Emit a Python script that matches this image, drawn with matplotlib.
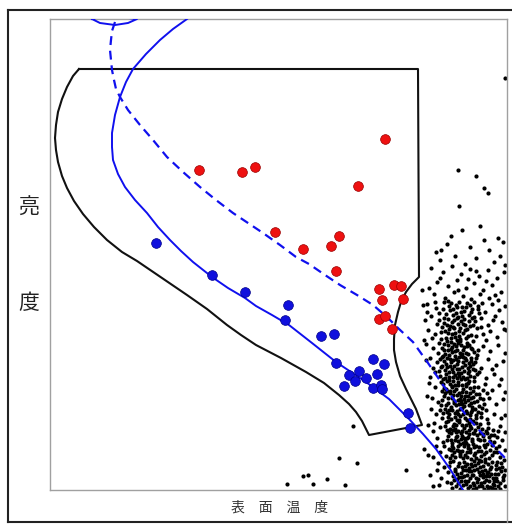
import matplotlib.pyplot as plt
from matplotlib.lines import Line2D

plt.rcParams['font.family'] = ['Noto Sans CJK JP', 'DejaVu Sans']

# all values, in picture units (x to the right, y downwards)
region_x = [79, 418, 419, 412, 406, 401, 398, 395, 394, 394, 396, 400, 406, 411, 416, 422,
            369, 366, 362, 356, 349, 339, 324, 306, 281, 256, 241, 227, 207, 187, 162,
            137, 122, 107, 94, 83, 74, 67, 62, 58, 56, 55, 56, 58, 62, 67, 73, 79]
region_y = [69, 69, 277, 284, 292, 302, 312, 325, 339, 350, 362, 376, 389, 399, 409, 425,
            435, 429, 421, 412, 404, 395, 383, 372, 358, 345, 335, 325, 309, 295, 278,
            261, 252, 240, 227, 214, 201, 188, 176, 162, 150, 138, 125, 112, 99, 87, 76, 69]

track_x = [187, 173, 160, 146, 133, 126, 120, 115, 112, 112, 113, 118, 125, 135, 147, 158,
           170, 181, 193, 212, 228, 245, 256, 272, 289, 312, 336, 351, 366, 389, 409, 423,
           436, 450, 463]
track_y = [19, 29, 40, 54, 69, 82, 97, 115, 133, 147, 160, 174, 187, 200, 213, 227,
           240, 251, 262, 277, 288, 298, 306, 315, 325, 343, 362, 372, 382, 399, 419, 434,
           449, 469, 490]

loop_x = [92, 100, 115, 128, 137, 120, 100, 92]
loop_y = [19, 23, 25, 23, 19, 17, 17, 19]

dashed_x = [115, 112, 111, 110, 111, 112, 114, 116, 120, 128, 140, 153, 167, 183, 200, 216,
            233, 248, 263, 280, 296, 309, 325, 340, 357, 373, 387, 399, 413, 428, 443, 456,
            469, 488, 506]
dashed_y = [22, 31, 40, 50, 60, 70, 80, 89, 97, 110, 125, 140, 157, 172, 187, 200,
            213, 223, 233, 245, 257, 264, 275, 285, 295, 305, 317, 329, 342, 363, 385, 402,
            419, 440, 459]

red_x = [199, 242, 255, 385, 358, 275, 303, 331, 339, 336, 379, 394, 401, 382, 403,
         379, 385, 392]
red_y = [170, 172, 167, 139, 186, 232, 249, 246, 236, 271, 289, 285, 286, 300, 299,
         319, 316, 329]

blue_x = [156, 212, 245, 288, 285, 321, 334, 336, 373, 384, 349, 359, 366, 377, 355,
          344, 373, 381, 382, 408, 410]
blue_y = [243, 275, 292, 305, 320, 336, 334, 363, 359, 364, 375, 371, 378, 374, 381,
          386, 388, 385, 389, 413, 428]

field_stars = [
    (505, 78), (458, 170), (476, 176), (484, 188), (488, 193), (459, 206),
    (353, 426), (339, 458), (357, 463), (406, 470), (303, 476), (308, 475),
    (327, 479), (287, 484), (313, 484), (345, 485), (424, 449),
    (430, 475), (433, 486), (428, 455), (425, 320), (422, 290),
]

cloud = [
    (462, 230), (480, 226), (498, 238), (447, 244), (470, 247), (489, 250), (503, 242),
    (455, 256), (440, 260), (476, 258), (494, 262), (465, 264), (484, 240), (451, 236),
    (436, 252), (500, 256),
    (431, 268), (443, 272), (452, 266), (461, 274), (470, 269), (479, 276), (488, 270),
    (497, 278), (504, 272), (437, 282), (448, 286), (457, 280), (466, 288), (474, 283),
    (483, 290), (492, 285), (501, 292), (434, 294), (445, 298), (454, 292), (463, 296),
    (471, 299), (480, 294), (489, 298), (498, 300), (440, 278), (458, 290), (476, 271),
    (486, 281), (495, 295), (429, 288), (468, 279),
    (427, 304), (436, 308), (444, 302), (450, 310), (456, 305), (461, 312), (467, 303),
    (472, 309), (478, 306), (485, 312), (492, 304), (499, 310), (505, 306), (431, 316),
    (439, 320), (446, 314), (452, 322), (458, 317), (463, 324), (469, 315), (475, 321),
    (481, 318), (488, 325), (495, 316), (502, 322), (428, 330), (435, 334), (442, 327),
    (448, 333), (454, 328), (459, 336), (465, 330), (471, 335), (477, 328), (483, 334),
    (490, 331), (497, 337), (504, 329), (441, 339), (457, 340), (473, 341), (486, 340),
    (449, 306), (464, 319), (455, 333), (470, 326), (447, 325), (462, 307), (453, 315),
    (479, 313), (444, 318), (466, 338), (437, 324), (460, 328), (474, 317), (451, 338),
    (493, 320), (482, 303),
    (426, 344), (433, 348), (439, 343), (444, 350), (448, 345), (452, 352), (456, 346),
    (460, 353), (464, 347), (468, 354), (472, 349), (477, 355), (483, 346), (490, 351),
    (498, 345), (505, 353), (430, 358), (437, 362), (442, 357), (446, 364), (450, 359),
    (454, 366), (458, 361), (462, 367), (466, 360), (470, 366), (475, 362), (481, 368),
    (488, 359), (496, 365), (503, 361), (435, 372), (440, 376), (445, 370), (449, 377),
    (453, 372), (457, 378), (461, 373), (465, 379), (469, 371), (474, 377), (479, 372),
    (486, 378), (494, 374), (501, 379), (443, 356), (451, 342), (459, 369), (467, 343),
    (447, 367), (455, 356), (463, 357), (471, 358), (438, 353), (457, 350), (449, 372),
    (461, 345), (445, 378), (473, 369), (453, 360), (441, 367), (465, 365), (478, 350),
    (459, 376), (451, 349), (468, 373), (444, 344), (433, 368), (492, 369),
    (429, 383), (435, 387), (441, 382), (446, 389), (450, 384), (454, 391), (458, 385),
    (462, 392), (466, 386), (470, 393), (474, 387), (479, 394), (485, 384), (492, 390),
    (499, 385), (505, 392), (432, 398), (438, 402), (444, 396), (448, 403), (452, 398),
    (456, 405), (460, 399), (464, 406), (468, 400), (472, 407), (477, 401), (482, 408),
    (489, 398), (496, 404), (503, 399), (436, 414), (442, 418), (447, 412), (451, 419),
    (455, 413), (459, 420), (463, 414), (467, 420), (471, 412), (476, 418), (481, 413),
    (487, 419), (494, 414), (501, 418), (445, 393), (453, 381), (461, 401), (469, 381),
    (449, 410), (457, 395), (465, 396), (473, 397), (440, 410), (458, 414), (450, 391),
    (462, 385), (446, 405), (475, 409), (454, 403), (442, 391), (466, 411), (480, 398),
    (460, 409), (452, 387), (470, 415), (483, 390), (448, 417), (443, 384),
    (434, 423), (440, 427), (446, 422), (450, 429), (454, 424), (458, 431), (462, 425),
    (466, 432), (470, 426), (474, 433), (478, 427), (483, 434), (488, 428), (494, 435),
    (500, 426), (505, 432), (437, 438), (443, 442), (448, 436), (452, 443), (456, 437),
    (460, 444), (464, 438), (468, 445), (472, 439), (476, 446), (480, 440), (485, 447),
    (490, 441), (496, 448), (502, 440), (440, 452), (446, 456), (451, 450), (455, 457),
    (459, 451), (463, 458), (467, 452), (471, 459), (475, 453), (479, 460), (484, 454),
    (489, 458), (494, 452), (500, 457), (505, 450), (449, 432), (457, 420), (465, 441),
    (473, 421), (453, 448), (461, 433), (469, 434), (477, 435), (444, 446), (462, 451),
    (455, 429), (466, 425), (451, 440), (479, 447), (458, 441), (447, 430), (470, 449),
    (484, 440), (464, 446), (456, 425), (474, 455), (487, 433), (452, 455), (492, 445),
    (481, 451), (497, 437), (460, 456), (468, 437),
    (438, 463), (444, 467), (450, 462), (455, 469), (459, 463), (463, 470), (467, 464),
    (471, 471), (475, 465), (479, 472), (483, 466), (487, 473), (491, 467), (495, 474),
    (499, 468), (504, 475), (441, 478), (447, 482), (453, 476), (458, 483), (462, 477),
    (466, 484), (470, 478), (474, 485), (478, 479), (482, 486), (486, 480), (490, 487),
    (494, 481), (498, 486), (503, 480), (452, 488), (460, 489), (468, 488), (476, 488),
    (484, 489), (492, 488), (500, 489), (457, 474), (465, 466), (473, 475), (481, 461),
    (489, 476), (497, 462), (461, 481), (469, 471), (477, 482), (485, 470), (493, 484),
    (501, 471), (454, 480), (488, 464), (480, 475), (472, 466), (464, 476), (496, 478),
    (448, 472), (505, 486),
]

# the dark core of the cloud
cloud_core = [
    (448, 301), (453, 309), (459, 302), (464, 311), (457, 318), (450, 326), (461, 321),
    (467, 329), (455, 337), (445, 331), (471, 312), (476, 336), (443, 309), (466, 307),
    (452, 334), (460, 339), (473, 325), (448, 319), (458, 324), (469, 321), (441, 332),
    (456, 313), (463, 333), (478, 309), (451, 303), (446, 338), (474, 302), (462, 316),
    (454, 320), (468, 336), (439, 313), (481, 327), (449, 329), (465, 325), (457, 307),
    (444, 323), (472, 318), (459, 331), (453, 327), (470, 305),
    (447, 341), (452, 347), (458, 343), (463, 350), (469, 345), (474, 352), (442, 348),
    (449, 355), (455, 351), (461, 356), (466, 353), (471, 361), (444, 361), (450, 366),
    (457, 364), (463, 362), (468, 368), (473, 364), (439, 371), (446, 374), (452, 369),
    (458, 373), (464, 371), (470, 376), (477, 374), (443, 379), (449, 380), (455, 375),
    (461, 379), (467, 378), (454, 344), (460, 341), (445, 354), (471, 348), (448, 350),
    (456, 359), (462, 354), (467, 346), (440, 359), (476, 358), (451, 362), (459, 357),
    (465, 358), (442, 366), (475, 370), (453, 377), (447, 358), (463, 377), (457, 369),
    (469, 363),
    (447, 381), (452, 386), (458, 382), (463, 389), (468, 383), (473, 391), (444, 388),
    (450, 393), (456, 389), (461, 396), (466, 392), (471, 398), (476, 394), (442, 400),
    (448, 398), (454, 401), (459, 404), (464, 399), (469, 405), (474, 402), (479, 406),
    (445, 409), (451, 407), (457, 411), (462, 408), (467, 413), (472, 410), (478, 412),
    (484, 404), (449, 414), (455, 417), (460, 416), (465, 418), (470, 419), (476, 415),
    (481, 417), (443, 413), (447, 391), (453, 395), (459, 393), (465, 402), (470, 388),
    (455, 385), (462, 404), (468, 396), (474, 381), (478, 387), (487, 393), (486, 410),
    (441, 405), (452, 410), (458, 400), (466, 384), (471, 403), (483, 399),
    (448, 421), (453, 426), (459, 422), (464, 428), (469, 423), (475, 430), (480, 424),
    (486, 431), (451, 433), (457, 436), (462, 431), (467, 438), (473, 433), (478, 439),
    (483, 436), (489, 437), (447, 440), (452, 446), (458, 446), (463, 443), (468, 448),
    (473, 444), (478, 451), (484, 445), (490, 450), (449, 449), (454, 452), (460, 454),
    (465, 455), (470, 452), (476, 458), (481, 456), (486, 452), (492, 455), (497, 452),
    (445, 426), (456, 432), (461, 439), (471, 428), (476, 423), (482, 429), (488, 423),
    (493, 430), (498, 431), (457, 450), (466, 443), (474, 447), (480, 433), (485, 459),
    (494, 442), (499, 446), (450, 458), (455, 440), (462, 436), (467, 457), (472, 441),
    (487, 444), (491, 435), (453, 430), (469, 430),
    (453, 461), (458, 466), (464, 462), (469, 468), (474, 461), (480, 467), (485, 462),
    (490, 469), (496, 465), (501, 463), (455, 471), (461, 473), (466, 470), (472, 475),
    (477, 469), (483, 477), (488, 472), (493, 478), (498, 474), (503, 477), (457, 479),
    (463, 485), (468, 481), (473, 483), (479, 486), (484, 482), (489, 481), (495, 489),
    (500, 483), (505, 470), (449, 466), (451, 483), (456, 486), (462, 467), (467, 475),
    (473, 489), (478, 463), (482, 471), (487, 486), (492, 462), (497, 481), (502, 467),
    (459, 477), (465, 481), (471, 464), (476, 478), (481, 483), (486, 476), (491, 474),
    (496, 469), (474, 470), (494, 485), (470, 486), (488, 489), (483, 474),
    (427, 312), (424, 340), (430, 377), (427, 396), (431, 409), (433, 431), (436, 446),
    (433, 457), (437, 470), (439, 485), (426, 360), (432, 338), (435, 302), (423, 305),
    (428, 425), (441, 250), (505, 265), (506, 330), (505, 415), (504, 460),
]

y_label = ['亮', '度']
x_label = '表　面　温　度'

fig = plt.figure(figsize=(5.12, 5.24), dpi=100)
ax = fig.add_axes([50 / 512, 34 / 524, 457 / 512, 471 / 524])
ax.set_xlim(50, 507)
ax.set_ylim(490, 19)
ax.set_xticks([])
ax.set_yticks([])
for s in ax.spines.values():
    s.set_color('#a0a0a0')
    s.set_linewidth(1.0)

# star cloud
for pts in (cloud, cloud_core, field_stars):
    ax.plot([p[0] for p in pts], [p[1] for p in pts], 'o', color='black',
            ms=3.0, mew=0, zorder=2)

# region outline
ax.plot(region_x, region_y, color='#111111', lw=1.5, zorder=3)

# evolutionary tracks
ax.plot(track_x, track_y, color='#1010ee', lw=1.4, zorder=4)
ax.plot(loop_x, loop_y, color='#1010ee', lw=1.4, zorder=4)
ax.plot(dashed_x, dashed_y, color='#1010ee', lw=1.6, ls=(0, (4, 2.6)), zorder=4)

# stars
ax.plot(red_x, red_y, 'o', color='#ee1111', mec='#990000', mew=0.5, ms=7, zorder=5)
ax.plot(blue_x, blue_y, 'o', color='#1010dd', mec='#000088', mew=0.5, ms=7, zorder=5)

# labels
fig.text(29 / 512, 1 - 208 / 524, y_label[0], fontsize=15, color='#222222',
         ha='center', va='center')
fig.text(29 / 512, 1 - 303 / 524, y_label[1], fontsize=15, color='#222222',
         ha='center', va='center')
fig.text(280 / 512, 1 - 508 / 524, x_label, fontsize=10, color='#333333',
         ha='center', va='center')

# outer frame
fig.add_artist(Line2D([8 / 512, 8 / 512], [1 - 10 / 524, 1 - 522 / 524],
                      transform=fig.transFigure, color='#222222', lw=1.5))
fig.add_artist(Line2D([8 / 512, 1.0], [1 - 10 / 524, 1 - 10 / 524],
                      transform=fig.transFigure, color='#222222', lw=1.5))
fig.add_artist(Line2D([8 / 512, 1.0], [1 - 522 / 524, 1 - 522 / 524],
                      transform=fig.transFigure, color='#222222', lw=1.5))
fig.add_artist(Line2D([507 / 512, 507 / 512], [1 - 490 / 524, 1 - 522 / 524],
                      transform=fig.transFigure, color='#a0a0a0', lw=1.0))

fig.savefig('out.png', dpi=100)
